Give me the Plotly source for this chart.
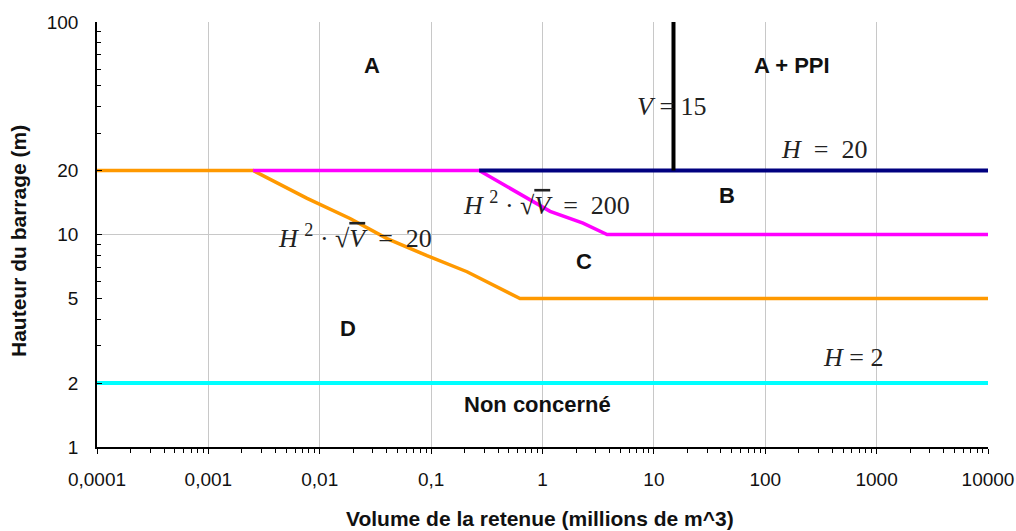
import plotly.graph_objects as go

# ---- data ----
x_ticks = [0.0001, 0.001, 0.01, 0.1, 1, 10, 100, 1000, 10000]
x_ticktext = ["0,0001", "0,001", "0,01", "0,1", "1", "10", "100", "1000", "10000"]
y_ticks = [1, 2, 5, 10, 20, 100]
y_ticktext = ["1", "2", "5", "10", "20", "100"]

# H^2*sqrt(V)=20 boundary (orange)
orange_v = [0.0001, 0.00252, 0.0077, 0.0187, 0.0402, 0.0918, 0.21, 0.416, 0.628, 10000]
orange_h = [20, 20, 14.8, 11.9, 9.57, 7.95, 6.68, 5.55, 5.0, 5.0]

# H^2*sqrt(V)=200 boundary (magenta)
magenta_v = [0.00252, 0.27, 1.17, 2.31, 3.8, 10000]
magenta_h = [20, 20, 12.85, 11.3, 10, 10]

# H = 20 (navy)
navy_v = [0.27, 10000]
navy_h = [20, 20]

# V = 15 (black)
black_v = [15, 15]
black_h = [20, 100]

# H = 2 (cyan)
cyan_v = [0.0001, 10000]
cyan_h = [2, 2]

fig = go.Figure()
for xs, ys, col, w in [
    (cyan_v, cyan_h, "#00FFFF", 4),
    (orange_v, orange_h, "#FF9900", 3.5),
    (magenta_v, magenta_h, "#FF00FF", 3.5),
    (navy_v, navy_h, "#000080", 4),
    (black_v, black_h, "#000000", 4),
]:
    fig.add_trace(go.Scatter(x=xs, y=ys, mode="lines", line=dict(color=col, width=w),
                             showlegend=False, hoverinfo="skip"))

# invisible trace on overlay axis to carry decade gridlines
fig.add_trace(go.Scatter(x=[0.0001], y=[1], mode="markers", marker=dict(opacity=0),
                         yaxis="y2", showlegend=False, hoverinfo="skip"))

minor_y = [3, 4, 6, 7, 8, 9, 30, 40, 50, 60, 70, 80, 90]

fig.update_layout(
    width=1016, height=531,
    margin=dict(l=97, r=28, t=22, b=84),
    paper_bgcolor="white", plot_bgcolor="white",
    font=dict(family="Liberation Sans, Arial, sans-serif", color="#111", size=19),
    xaxis=dict(
        type="log", range=[-4, 4], automargin=False,
        tickvals=x_ticks, ticktext=x_ticktext, ticklabeloverflow="allow",
        showgrid=True, gridcolor="#c8c8c8", gridwidth=1,
        showline=True, linecolor="black", linewidth=1.5,
        ticks="outside", ticklen=5, tickcolor="black",
        minor=dict(ticks="outside", ticklen=4, tickcolor="black", showgrid=False,
                   dtick="D1"),
        tickfont=dict(size=19),
        ticklabelstandoff=9,
        zeroline=False,
    ),
    yaxis=dict(
        type="log", range=[0, 2], automargin=False,
        tickvals=y_ticks, ticktext=y_ticktext,
        showgrid=False,
        showline=True, linecolor="black", linewidth=1.5,
        ticks="inside", ticklen=5, tickcolor="black",
        minor=dict(ticks="inside", ticklen=4, tickcolor="black", tickvals=minor_y,
                   showgrid=False),
        tickfont=dict(size=19),
        ticklabelstandoff=13,
        zeroline=False,
    ),
    yaxis2=dict(
        type="log", range=[0, 2], overlaying="y", side="left", automargin=False,
        tickvals=[1, 10, 100], showgrid=True, gridcolor="#c8c8c8", gridwidth=1,
        showticklabels=False, ticks="", showline=False, zeroline=False,
    ),
)

def px2paper(px, py):
    return (px - 97) / 891.0, (447 - py) / 425.0

# axis titles
xp, yp = px2paper(540, 518)
fig.add_annotation(x=xp, y=yp, xref="paper", yref="paper",
                   text="<b>Volume de la retenue (millions de m^3)</b>",
                   xanchor="center", yanchor="middle", showarrow=False,
                   font=dict(size=21, color="#111"))
xp, yp = px2paper(18, 241)
fig.add_annotation(x=xp, y=yp, xref="paper", yref="paper",
                   text="<b>Hauteur du barrage (m)</b>", textangle=-90,
                   xanchor="center", yanchor="middle", showarrow=False,
                   font=dict(size=21, color="#111"))

bold_labels = [
    ("A", 372, 65), ("A + PPI", 792, 65), ("B", 727, 195), ("C", 584, 261),
    ("D", 348, 328), ("Non concerné", 537, 404),
]
for t, px, py in bold_labels:
    xp, yp = px2paper(px, py)
    fig.add_annotation(x=xp, y=yp, xref="paper", yref="paper", text=f"<b>{t}</b>",
                       xanchor="center", yanchor="middle",
                       showarrow=False, font=dict(size=22, color="#111"))

ov = '<span style="text-decoration:overline"><i>V</i></span>'
math_labels = [
    ("<i>V</i> = 15", 672, 106),
    ("<i>H</i>\u00a0 =\u00a0 20", 824, 149),
    ("<i>H</i> = 2", 853, 357),
    (f"<i>H</i> <sup>2</sup> · √{ov}\u00a0 =\u00a0 200", 546, 203),
    (f"<i>H</i> <sup>2</sup> · √{ov}\u00a0 =\u00a0 20", 355, 236),
]
for t, px, py in math_labels:
    xp, yp = px2paper(px, py)
    fig.add_annotation(x=xp, y=yp, xref="paper", yref="paper", text=t,
                       xanchor="center", yanchor="middle",
                       showarrow=False,
                       font=dict(size=26, family="Liberation Serif, Times New Roman, serif",
                                 color="#222"))

# remove the default 8px body margin so the figure fills the 1016x531 window
fig.write_html("out.html", config={"displayModeBar": False},
               post_script="document.body.style.margin='0px';document.body.style.overflow='hidden';")
